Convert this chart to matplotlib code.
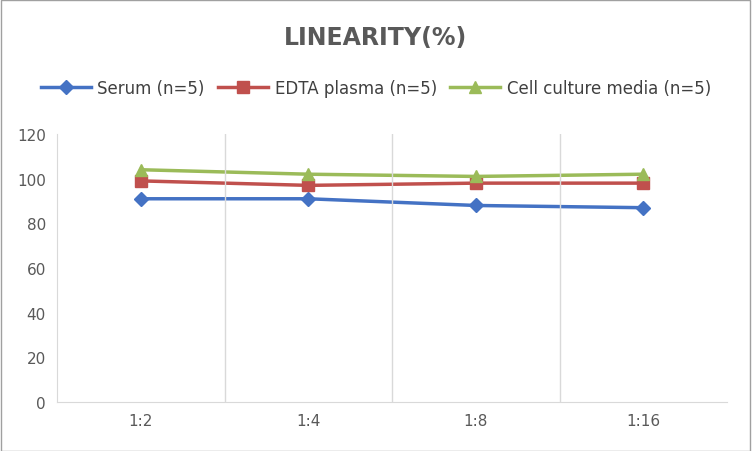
import matplotlib
matplotlib.use("Agg")
import matplotlib.pyplot as plt
from matplotlib.patches import Rectangle

categories = ["1:2", "1:4", "1:8", "1:16"]
serum = [91, 91, 88, 87]
edta = [99, 97, 98, 98]
cell = [104, 102, 101, 102]
yticks = [0, 20, 40, 60, 80, 100, 120]

fig = plt.figure(figsize=(7.52, 4.52), dpi=100)
fig.patches.append(Rectangle((0.001, 0.001), 0.997, 0.997, transform=fig.transFigure,
                             fill=False, edgecolor="#a0a0a0", linewidth=1))
ax = fig.add_axes([57/752, 1-403/452, 670/752, 268/452])
x = list(range(len(categories)))
ax.plot(x, serum, color="#4472C4", marker="D", markersize=7, linewidth=2.5, label="Serum (n=5)")
ax.plot(x, edta, color="#C0504D", marker="s", markersize=8, linewidth=2.5, label="EDTA plasma (n=5)")
ax.plot(x, cell, color="#9BBB59", marker="^", markersize=9, linewidth=2.5, label="Cell culture media (n=5)")
ax.set_xlim(-0.5, len(categories) - 0.5)
ax.set_ylim(0, 120)
ax.set_yticks(yticks)
ax.set_xticks(x)
ax.set_xticklabels(categories)
for b in [0.5, 1.5, 2.5]:
    ax.axvline(b, color="#d9d9d9", linewidth=1)
for s in ["top", "right"]:
    ax.spines[s].set_visible(False)
ax.spines["bottom"].set_color("#d9d9d9")
ax.spines["left"].set_color("#d9d9d9")
ax.tick_params(length=0, labelsize=11, labelcolor="#595959", pad=8)
fig.text(0.5, 1-38/452, "LINEARITY(%)", ha="center", va="center", fontsize=17,
         fontweight="bold", color="#595959")
fig.legend(loc="center", bbox_to_anchor=(0.5, 1-89/452), ncol=3, frameon=False,
           fontsize=12, labelcolor="#404040", handlelength=3, columnspacing=0.8, handletextpad=0.4)
fig.savefig("out.png", dpi=100)
